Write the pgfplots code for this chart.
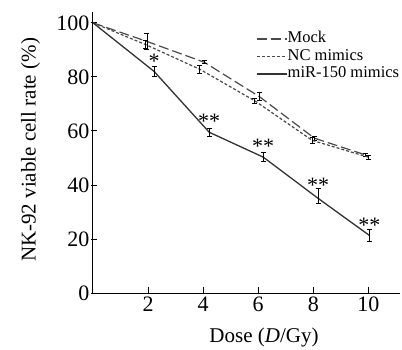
\documentclass[border=0pt]{standalone}
\usepackage{fontspec}
\setmainfont{Liberation Serif}
\usepackage{pgfplots}
\pgfplotsset{compat=1.18}
\definecolor{lineA}{HTML}{4A4A4A}
\definecolor{lineB}{HTML}{333333}
\begin{document}
\begin{tikzpicture}
\useasboundingbox (-93bp,-57bp) rectangle (309bp,293bp);
\begin{axis}[
  at={(0,0)}, anchor=south west,
  scale only axis, width=307bp, height=281bp,
  xmin=0, xmax=11.15, ymin=0, ymax=104,
  axis x line*=bottom, axis y line*=left,
  xtick={2,4,6,8,10}, ytick={0,20,40,60,80,100},
  tick align=inside, major tick length=6bp,
  y tick style={xshift=-2bp},
  tick style={black, line width=0.8bp},
  axis line style={black, line width=1bp},
  ticklabel style={font=\fontsize{22bp}{22bp}\selectfont},
  /pgf/number format/assume math mode=true,
  xlabel={Dose (\textit{D}/Gy)},
  ylabel={NK-92 viable cell rate (\%)},
  label style={font=\fontsize{21bp}{21bp}\selectfont},
  xlabel style={at={(axis description cs:0.557,-0.112)}, anchor=north},
  ylabel style={at={(axis description cs:-0.203,0.509)}, anchor=center},
  legend style={at={(axis description cs:0.53,0.936)}, anchor=north west,
    draw=none, fill=none, inner sep=0pt, row sep=0bp,
    nodes={text height=12bp, text depth=4.5bp, inner sep=0.5bp},
    font=\fontsize{16.5bp}{16.5bp}\selectfont},
  legend cell align=left,
  legend image code/.code={\draw[#1] (0bp,0bp) -- (30bp,0bp);},
  error bars/error bar style={black, line width=0.8bp, solid},
  error bars/error mark options={black, rotate=90, mark size=2.5bp, line width=0.8bp},
]
\addplot[lineA, line width=1.2bp, dash pattern=on 10bp off 4bp,
  error bars/.cd, y dir=both, y explicit] coordinates {
  (0,100) (1.96,93.1) +- (0,3) (4.04,85.4) +- (0,0.6) (6.04,72.7) +- (0,1.5)
  (8.04,57.3) +- (0,0.8) (9.9,51.1) +- (0,0.7)
};
\addlegendentry{Mock}
\addplot[lineA, line width=1.2bp, dash pattern=on 3bp off 2bp,
  error bars/.cd, y dir=both, y explicit] coordinates {
  (0,100) (1.92,91.9) +- (0,1.5) (3.88,82.8) +- (0,1.5) (5.88,71.1) +- (0,1)
  (7.96,56.5) +- (0,1) (10.02,50.2) +- (0,0.6)
};
\addlegendentry{NC mimics}
\addplot[lineB, line width=1.3bp,
  error bars/.cd, y dir=both, y explicit] coordinates {
  (0,100) (2.22,82) +- (0,1.7) (4.22,59.5) +- (0,1.5) (6.18,50.3) +- (0,1.7)
  (8.18,35) += (0,3.6) -= (0,2) (10.04,21.3) +- (0,2.1)
};
\addlegendentry{miR-150 mimics}
\addplot[forget plot, only marks, mark=none,
  nodes near coords, point meta=explicit symbolic,
  every node near coord/.append style={anchor=center, inner sep=0pt, black,
    font=\fontsize{22bp}{22bp}\selectfont}] coordinates {
  (2.22,85.6) [*] (4.22,63.4) [**] (6.18,54.4) [**] (8.18,39.9) [**] (10.04,25.0) [**]
};
\end{axis}
\end{tikzpicture}
\end{document}
